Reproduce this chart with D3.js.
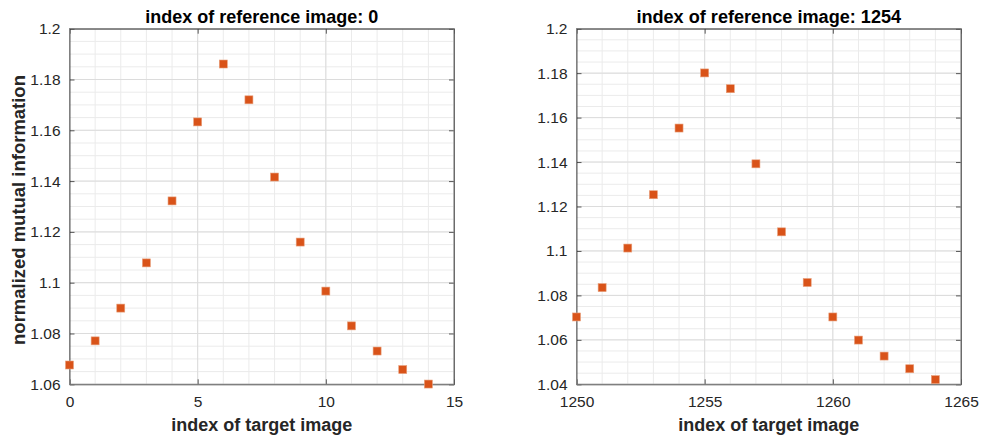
<!DOCTYPE html>
<html><head><meta charset="utf-8">
<script src="https://cdn.jsdelivr.net/npm/d3@7"></script>
<style>body{margin:0;background:#fff}svg{display:block}</style>
</head><body><svg id="c" width="982" height="438"></svg>
<script>
const leftX = [0,1,2,3,4,5,6,7,8,9,10,11,12,13,14];
const leftY = [1.0676,1.0771,1.0900,1.1078,1.1322,1.1633,1.1861,1.1720,1.1416,1.1160,1.0967,1.0830,1.0731,1.0658,1.0601];
const rightX = [1250,1251,1252,1253,1254,1255,1256,1257,1258,1259,1260,1261,1262,1263,1264];
const rightY = [1.0703,1.0835,1.1013,1.1253,1.1553,1.1801,1.1730,1.1392,1.1086,1.0858,1.0703,1.0599,1.0527,1.0470,1.0421];
const leftXTicks = [0,5,10,15];
const leftYTicks = [1.06,1.08,1.1,1.12,1.14,1.16,1.18,1.2];
const rightXTicks = [1250,1255,1260,1265];
const rightYTicks = [1.04,1.06,1.08,1.1,1.12,1.14,1.16,1.18,1.2];
const titles = ["index of reference image: 0","index of reference image: 1254"];
const xLabel = "index of target image";
const yLabel = "normalized mutual information";

const svg = d3.select("#c");
const FONT = "'Liberation Sans', Arial, Helvetica, sans-serif";

function fitText(sel, target){
  const w = sel.node().getComputedTextLength();
  const fs = parseFloat(sel.style("font-size"));
  sel.style("font-size", (fs*target/w).toFixed(2)+"px");
}

function panel(box, xs, ys, xDom, yDom, xTicks, yTicks, title, titleW, showY){
  const x = d3.scaleLinear().domain(xDom).range([box.l, box.r]);
  const y = d3.scaleLinear().domain(yDom).range([box.b, box.t]);
  const g = svg.append("g");
  const xMinor = d3.range(xDom[0], xDom[1]+0.001, 1);
  const yMinor = d3.range(0, Math.round((yDom[1]-yDom[0])/0.005)+1).map(i=>yDom[0]+i*0.005);
  g.selectAll(".xm").data(xMinor).join("line")
    .attr("x1",d=>x(d)).attr("x2",d=>x(d)).attr("y1",box.t).attr("y2",box.b)
    .attr("stroke","#ebebeb").attr("stroke-width",1);
  g.selectAll(".ym").data(yMinor).join("line")
    .attr("y1",d=>y(d)).attr("y2",d=>y(d)).attr("x1",box.l).attr("x2",box.r)
    .attr("stroke","#ebebeb").attr("stroke-width",1);
  g.selectAll(".xg").data(xTicks).join("line")
    .attr("x1",d=>x(d)).attr("x2",d=>x(d)).attr("y1",box.t).attr("y2",box.b)
    .attr("stroke","#dcdcdc").attr("stroke-width",1);
  g.selectAll(".yg").data(yTicks).join("line")
    .attr("y1",d=>y(d)).attr("y2",d=>y(d)).attr("x1",box.l).attr("x2",box.r)
    .attr("stroke","#dcdcdc").attr("stroke-width",1);
  const ax = g.append("g").attr("transform",`translate(0,${box.b})`)
    .call(d3.axisBottom(x).tickValues(xTicks).tickSizeInner(-5).tickSizeOuter(0).tickPadding(12).tickFormat(d3.format("d")));
  const axT = g.append("g").attr("transform",`translate(0,${box.t})`)
    .call(d3.axisTop(x).tickValues(xTicks).tickSizeInner(-5).tickSizeOuter(0).tickFormat(""));
  const ay = g.append("g").attr("transform",`translate(${box.l},0)`)
    .call(d3.axisLeft(y).tickValues(yTicks).tickSizeInner(-5).tickSizeOuter(0).tickPadding(9).tickFormat(d=>d3.format("~g")(+d.toFixed(2))));
  const ayR = g.append("g").attr("transform",`translate(${box.r},0)`)
    .call(d3.axisRight(y).tickValues(yTicks).tickSizeInner(-5).tickSizeOuter(0).tickFormat(""));
  [ax,axT,ay,ayR].forEach(a=>{
    a.selectAll("path").attr("stroke","#262626").attr("stroke-width",1).attr("opacity",0.75);
    a.selectAll("line").attr("stroke","#262626").attr("opacity",0.75);
    a.selectAll("text").attr("fill","#262626").style("font-family",FONT).style("font-size","15.5px");
  });
  ax.selectAll("text").attr("dy","0.71em");
  g.append("rect").attr("x",box.l).attr("y",box.t).attr("width",box.r-box.l).attr("height",box.b-box.t)
    .attr("fill","none").attr("stroke","#808080").attr("stroke-width",1);
  const s = 8;
  g.selectAll(".pt").data(xs.map((d,i)=>[d,ys[i]])).join("rect")
    .attr("x",d=>x(d[0])-s/2).attr("y",d=>y(d[1])-s/2).attr("width",s).attr("height",s)
    .attr("fill","#D95319").attr("stroke","#e8a07c").attr("stroke-width",0.6);
  const t = g.append("text").attr("x",(box.l+box.r)/2).attr("y",23).attr("text-anchor","middle")
    .style("font-family",FONT).style("font-size","18px").style("font-weight","bold").attr("fill","#000").text(title);
  fitText(t, titleW);
  const xl = g.append("text").attr("x",(box.l+box.r)/2).attr("y",431).attr("text-anchor","middle")
    .style("font-family",FONT).style("font-size","17.8px").style("font-weight","bold").attr("fill","#262626").text(xLabel);
  fitText(xl, 181);
  if(showY){
    const yl = g.append("text").attr("transform",`translate(25,${(75+345)/2}) rotate(-90)`).attr("text-anchor","middle")
      .style("font-family",FONT).style("font-size","18px").style("font-weight","bold").attr("fill","#262626").text(yLabel);
    fitText(yl, 270);
  }
}
panel({l:69.5,r:454,t:28.7,b:384.3}, leftX, leftY, [0,15], [1.06,1.2], leftXTicks, leftYTicks, titles[0], 233, true);
panel({l:576.5,r:961,t:28.7,b:384.3}, rightX, rightY, [1250,1265], [1.04,1.2], rightXTicks, rightYTicks, titles[1], 265, false);
</script></body></html>
